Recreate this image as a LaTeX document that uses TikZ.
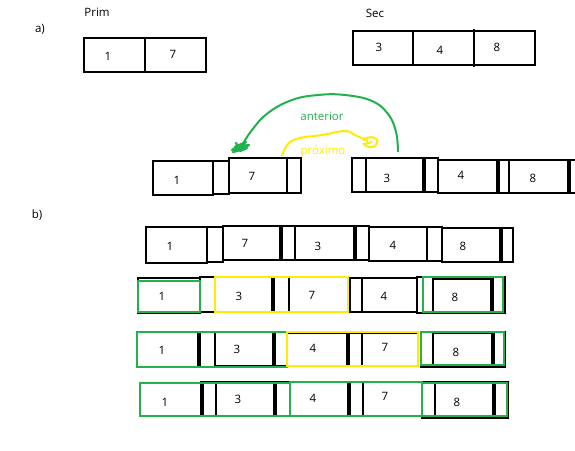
\documentclass[tikz,border=0pt]{standalone}
\usepackage{fontspec}
\setmainfont{Open Sans}
\definecolor{pgreen}{RGB}{34,177,76}
\definecolor{pyellow}{RGB}{255,236,0}
\tikzset{
  cellline/.style={draw=black,line width=1.5pt},
  thickline/.style={draw=black,line width=3pt},
  topline/.style={draw=black,line width=2pt},
  grn/.style={draw=pgreen,line width=1.8pt},
  ylw/.style={draw=pyellow,line width=1.8pt},
  lbl/.style={font=\fontsize{11.5}{13}\selectfont,inner sep=0pt},
}
\newcommand\rbox[5][]{\draw[cellline,#1] (#2,#3) rectangle (#4,#5);}
\begin{document}
\begin{tikzpicture}[x=1pt,y=-1pt]
\useasboundingbox[fill=white] (0,0) rectangle (575,450);
% ---------- a) ----------
\node[lbl] (la) at (40,29) {a)};
\node[lbl] (prim) at (97,12) {Prim};
\node[lbl] (sec) at (375,13) {Sec};
\draw[topline] (84,38) rectangle (206,72);
\draw[topline] (145,38) -- (145,72);
\node[lbl] (p1) at (108,56) {1};
\node[lbl] (p7) at (173,54) {7};
\draw[topline] (353,31) rectangle (535,65);
\draw[topline] (413,31) -- (413,65);
\draw[topline] (474,29) -- (474,67);
\node[lbl] (s3) at (379,47) {3};
\node[lbl] (s4) at (440,50) {4};
\node[lbl] (s8) at (497,47) {8};
% middle row
\rbox{153}{161}{213}{195}
\rbox{213}{161}{229}{194}
\rbox{229}{158}{287}{193}
\rbox{287}{158}{301}{193}
\node[lbl] (m1) at (177,180) {1};
\node[lbl] (m7) at (252,176) {7};
\rbox{352}{158}{366}{192}
\draw[line width=2.2pt] (352,158) -- (352,192);
\rbox{366}{158}{423}{192}
\rbox{423}{158}{438}{192}
\draw[thickline] (424,158) -- (424,192);
\rbox{438}{160}{497}{193}
\rbox{497}{160}{509}{193}
\draw[thickline] (498,160) -- (498,193);
\rbox{509}{160}{568}{193}
\rbox{568}{160}{578}{193}
\draw[thickline] (569,160) -- (569,193);
\node[lbl] (m3) at (387,178) {3};
\node[lbl] (m4) at (461,175) {4};
\node[lbl] (m8) at (533,178) {8};
% arcs
\coordinate (gs) at (398,152);
\coordinate (ge) at (241,147);
\draw[grn,line width=2pt] plot[smooth,tension=0.7] coordinates
  {(gs) (396,132) (388,114) (372,101) (345,95) (318,95) (292,100) (268,113) (252,130) (ge)};
\draw[grn,line width=2.4pt,line join=round,line cap=round] (232,150) -- (246,142) -- (235,147) -- (249,145) -- (233,152) -- (247,148) -- (240,151) -- (236,143);
\node[lbl,text=pgreen] (ant) at (322,116) {anterior};
\coordinate (ys) at (282,156);
\coordinate (ye) at (368,141);
\draw[ylw,line width=2pt] plot[smooth,tension=0.7] coordinates
  {(ys) (288,144) (300,138) (322,135) (345,131) (355,135) (ye)};
\draw[ylw,line width=2pt] (363,140) .. controls (370,135) and (379,137) .. (377,143)
  .. controls (376,149) and (366,148) .. (364,144) -- (372,142);
\node[lbl,text=pyellow] (prox) at (323,151) {próximo};
% ---------- b) ----------
\node[lbl] (lb) at (37,215) {b)};
% row b1
\rbox{146}{227}{207}{263}
\rbox{207}{227}{223}{262}
\rbox{223}{226}{280}{260}
\rbox{280}{226}{295}{260}
\draw[thickline] (281,226) -- (281,260);
\rbox{295}{226}{354}{260}
\rbox{354}{226}{369}{260}
\draw[thickline] (355,226) -- (355,260);
\rbox{369}{227}{427}{261}
\rbox{427}{227}{442}{261}
\rbox{442}{228}{500}{262}
\rbox{500}{228}{513}{262}
\draw[thickline] (501,228) -- (501,262);
\node[lbl] (a1) at (170,246) {1};
\node[lbl] (a7) at (245,243) {7};
\node[lbl] (a3) at (318,246) {3};
\node[lbl] (a4) at (393,245) {4};
\node[lbl] (a8) at (463,246) {8};
% row b2
\rbox{138}{278}{200}{313}
\rbox{200}{277}{215}{312}
\rbox{215}{277}{272}{312}
\rbox{272}{277}{289}{312}
\draw[thickline] (273,277) -- (273,312);
\rbox{289}{277}{348}{312}
\rbox{348}{278}{362}{312}
\draw[thickline] (349,278) -- (349,312);
\rbox{362}{278}{417}{312}
\rbox{417}{277}{505}{313}
\rbox{433}{279}{491}{312}
\draw[thickline] (492,278) -- (492,312);
\draw[grn] (138,281) rectangle (200,312);
\draw[ylw] (215,277) rectangle (348,312);
\draw[grn] (423,277) rectangle (503,312);
\node[lbl] (b1) at (162,296) {1};
\node[lbl] (b3) at (239,296) {3};
\node[lbl] (b7) at (312,295) {7};
\node[lbl] (b4) at (384,296) {4};
\node[lbl] (b8) at (455,297) {8};
% row b3
\rbox{137}{332}{198}{367}
\rbox{198}{332}{215}{367}
\draw[thickline] (199,332) -- (199,367);
\rbox{215}{332}{273}{366}
\rbox{273}{332}{287}{366}
\draw[thickline] (274,332) -- (274,366);
\rbox{287}{333}{347}{366}
\rbox{347}{333}{362}{366}
\draw[thickline] (348,333) -- (348,366);
\rbox{362}{333}{418}{366}
\rbox{421}{332}{505}{367}
\rbox{433}{333}{492}{367}
\draw[thickline] (493,332) -- (493,365);
\draw[grn] (137,332) rectangle (287,367);
\draw[ylw] (287,332) rectangle (418,366);
\draw[grn] (421,332) rectangle (504,365);
\node[lbl] (c1) at (162,350) {1};
\node[lbl] (c3) at (237,349) {3};
\node[lbl] (c4) at (313,348) {4};
\node[lbl] (c7) at (385,347) {7};
\node[lbl] (c8) at (456,352) {8};
% row b4
\rbox{140}{383}{201}{416}
\rbox{201}{382}{216}{416}
\draw[thickline] (202,382) -- (202,416);
\rbox{216}{382}{274}{416}
\rbox{274}{382}{290}{416}
\draw[thickline] (275,382) -- (275,416);
\rbox{290}{382}{348}{416}
\rbox{348}{382}{363}{416}
\draw[thickline] (349,382) -- (349,416);
\rbox{363}{382}{422}{416}
\rbox{422}{382}{508}{418}
\rbox{435}{383}{493}{418}
\draw[thickline] (494,383) -- (494,416);
\draw[grn] (140,383) rectangle (290,416);
\draw[grn] (290,382) rectangle (422,416);
\draw[grn] (422,383) rectangle (507,416);
\node[lbl] (d1) at (165,402) {1};
\node[lbl] (d3) at (238,399) {3};
\node[lbl] (d4) at (313,398) {4};
\node[lbl] (d7) at (385,396) {7};
\node[lbl] (d8) at (457,402) {8};
\end{tikzpicture}
\end{document}
